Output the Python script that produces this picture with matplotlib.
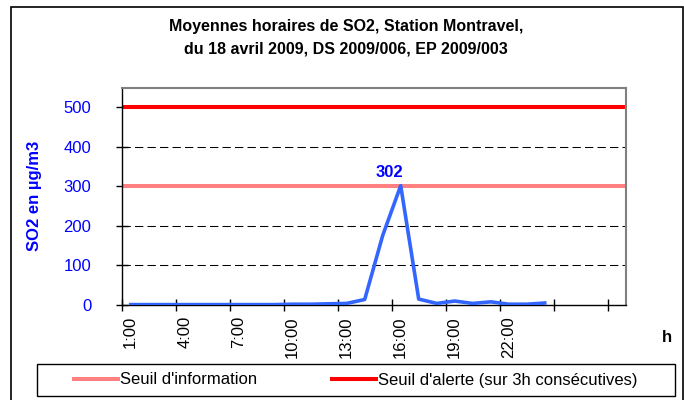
import matplotlib
matplotlib.use("Agg")
import matplotlib.pyplot as plt
from matplotlib.lines import Line2D
from matplotlib.patches import Rectangle

plt.rcParams['font.family'] = ['Liberation Sans', 'DejaVu Sans']

# hourly categories (24 hours + 4 empty slots on the category axis)
hours = ['1:00', '2:00', '3:00', '4:00', '5:00', '6:00', '7:00', '8:00',
         '9:00', '10:00', '11:00', '12:00', '13:00', '14:00', '15:00', '16:00',
         '17:00', '18:00', '19:00', '20:00', '21:00', '22:00', '23:00', '24:00']
extra_slots = ['', '', '', '']
so2 = [1, 1, 1, 1, 1, 1, 1, 1, 1, 2, 2, 3, 4, 14, 176, 302,
       15, 4, 10, 4, 8, 2, 2, 5]
seuil_info = 300
seuil_alerte = 500
y_ticks = [0, 100, 200, 300, 400, 500]

categories = hours + extra_slots
n_cat = len(categories)
x = [i + 0.5 for i in range(len(so2))]

fig = plt.figure(figsize=(6.84, 4.0), dpi=100)
ax = fig.add_axes([121.7 / 684, 1 - 305 / 400, 504 / 684, 217.3 / 400])

# outer chart border
fig.add_artist(Rectangle((11 / 684, -0.01), 672 / 684, 1 - 7 / 400 + 0.01,
                         transform=fig.transFigure, fill=False,
                         edgecolor='black', linewidth=1.2))

for v in [100, 200, 400]:
    ax.axhline(v, color='black', linewidth=0.75, dashes=(8, 4), zorder=1)
ax.axhline(seuil_info, color='#FF8080', linewidth=2.9, zorder=2)
ax.axhline(seuil_alerte, color='#FF0000', linewidth=2.9, zorder=2)
ax.plot(x, so2, color='#3366FF', linewidth=2.6, zorder=3)

imax = so2.index(max(so2))
ax.text(x[imax] - 0.6, max(so2) + 34, str(max(so2)), color='#0000FF',
        fontsize=12, fontweight='bold', ha='center', va='center')

ax.set_xlim(0, n_cat)
ax.set_ylim(0, 550)

ax.set_xticks(range(0, n_cat, 3))
ax.set_xticklabels([])
ax.set_xticks([i + 0.5 for i in range(0, n_cat, 3)], minor=True)
ax.set_xticklabels([categories[i] for i in range(0, n_cat, 3)], minor=True,
                   rotation=90, fontsize=12)
ax.tick_params(axis='x', which='major', direction='inout', length=8, width=1)
ax.tick_params(axis='x', which='minor', length=0, pad=8)

ax.set_yticks(y_ticks)
ax.set_yticklabels([str(v) for v in y_ticks], color='#0000FF', fontsize=12)
ax.tick_params(axis='y', direction='inout', length=8, width=1, pad=18)
ax.set_ylabel('SO2 en µg/m3', color='#0000FF', fontsize=12, fontweight='bold')
ax.yaxis.set_label_coords(-0.158, 0.5)

for side in ['top', 'right']:
    ax.spines[side].set_color('#808080')
    ax.spines[side].set_linewidth(1.5)
for side in ['left', 'bottom']:
    ax.spines[side].set_color('black')
    ax.spines[side].set_linewidth(1)

fig.text(667 / 684, 1 - 338 / 400, 'h', fontsize=12, fontweight='bold',
         ha='center', va='center')

fig.text(346 / 684, 1 - 38 / 400,
         'Moyennes horaires de SO2, Station Montravel,\n'
         'du 18 avril 2009, DS 2009/006, EP 2009/003',
         fontsize=11.5, fontweight='bold', ha='center', va='center',
         linespacing=1.65)

# legend box
fig.add_artist(Rectangle((37 / 684, 1 - 396 / 400), 638 / 684, 32 / 400,
                         transform=fig.transFigure, fill=False,
                         edgecolor='black', linewidth=1))
handles = [Line2D([], [], color='#FF8080', linewidth=2.9),
           Line2D([], [], color='#FF0000', linewidth=2.9)]
fig.legend(handles, ["Seuil d'information", "Seuil d'alerte (sur 3h consécutives)"],
           loc='center', bbox_to_anchor=(356 / 684, 1 - 380 / 400), ncol=2,
           frameon=False, fontsize=12, handlelength=2.6, handletextpad=0.15,
           columnspacing=4.5)

fig.savefig('out.png', dpi=100)
